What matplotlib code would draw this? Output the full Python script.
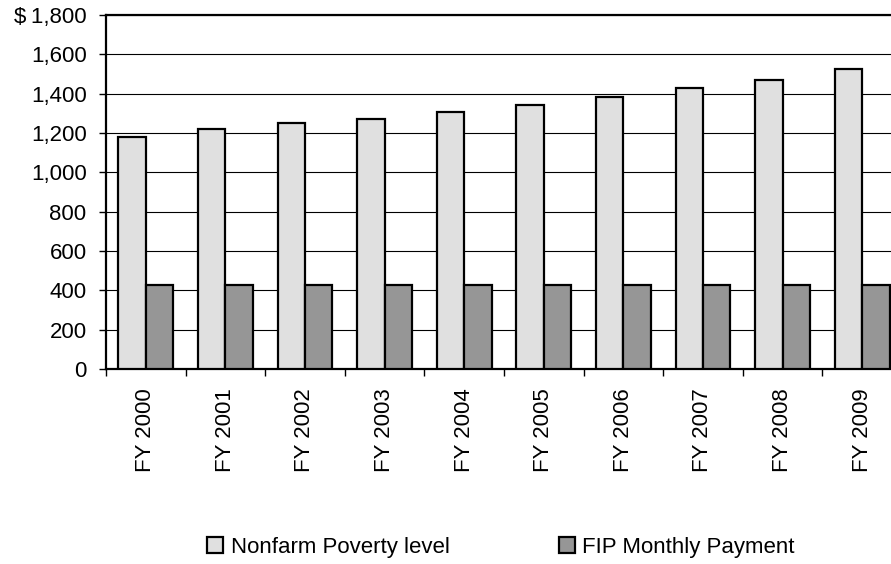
import matplotlib
matplotlib.use('Agg')
import matplotlib.pyplot as plt
import numpy as np
from matplotlib.patches import Patch

years = ['FY 2000', 'FY 2001', 'FY 2002', 'FY 2003', 'FY 2004',
         'FY 2005', 'FY 2006', 'FY 2007', 'FY 2008', 'FY 2009']
poverty = [1179, 1219, 1252, 1272, 1306, 1341, 1383, 1431, 1467, 1526]
fip = [426, 426, 426, 426, 426, 426, 426, 426, 426, 426]
yticks = [0, 200, 400, 600, 800, 1000, 1200, 1400, 1600, 1800]
ylabels = ['0', '200', '400', '600', '800', '1,000', '1,200', '1,400', '1,600', '$\u20091,800']

light = '#e0e0e0'
dark = '#969696'

plt.rcParams['font.family'] = ['Liberation Sans', 'DejaVu Sans']

fig = plt.figure(figsize=(8.91, 5.64), dpi=100)
ax = fig.add_axes([106 / 891, 1 - 369 / 564, 796 / 891, 354 / 564])

x = np.arange(len(years))
w = 0.345
ax.bar(x - w / 2, poverty, w, color=light, edgecolor='black', linewidth=1.6, zorder=3)
ax.bar(x + w / 2, fip, w, color=dark, edgecolor='black', linewidth=1.6, zorder=3)

ax.set_xlim(-0.5, len(years) - 0.5)
ax.set_ylim(0, 1800)
ax.set_yticks(yticks)
ax.set_yticklabels(ylabels, fontsize=16)
ax.yaxis.grid(True, color='black', linewidth=0.8, zorder=0)

ax.set_xticks(x)
ax.set_xticklabels(years, rotation=90, fontsize=16, va='top', ha='center')
ax.set_xticks(np.arange(-0.5, len(years)), minor=True)
ax.tick_params(axis='x', which='major', length=0, pad=14)
ax.tick_params(axis='x', which='minor', length=5, width=1, direction='out')
ax.tick_params(axis='y', length=5, width=1, direction='out', pad=9)

for s in ['left', 'bottom', 'top', 'right']:
    ax.spines[s].set_linewidth(1.6)
    ax.spines[s].set_color('black')

handles = [Patch(facecolor=light, edgecolor='black', linewidth=1.6),
           Patch(facecolor=dark, edgecolor='black', linewidth=1.6)]
fig.legend(handles, ['Nonfarm Poverty level', 'FIP Monthly Payment'],
           loc='center', bbox_to_anchor=(501 / 891, 1 - 547 / 564), ncol=2,
           frameon=False, fontsize=16, handlelength=0.72, handleheight=0.72,
           handletextpad=0.35, columnspacing=4.9)

fig.savefig('out.png', dpi=100)
